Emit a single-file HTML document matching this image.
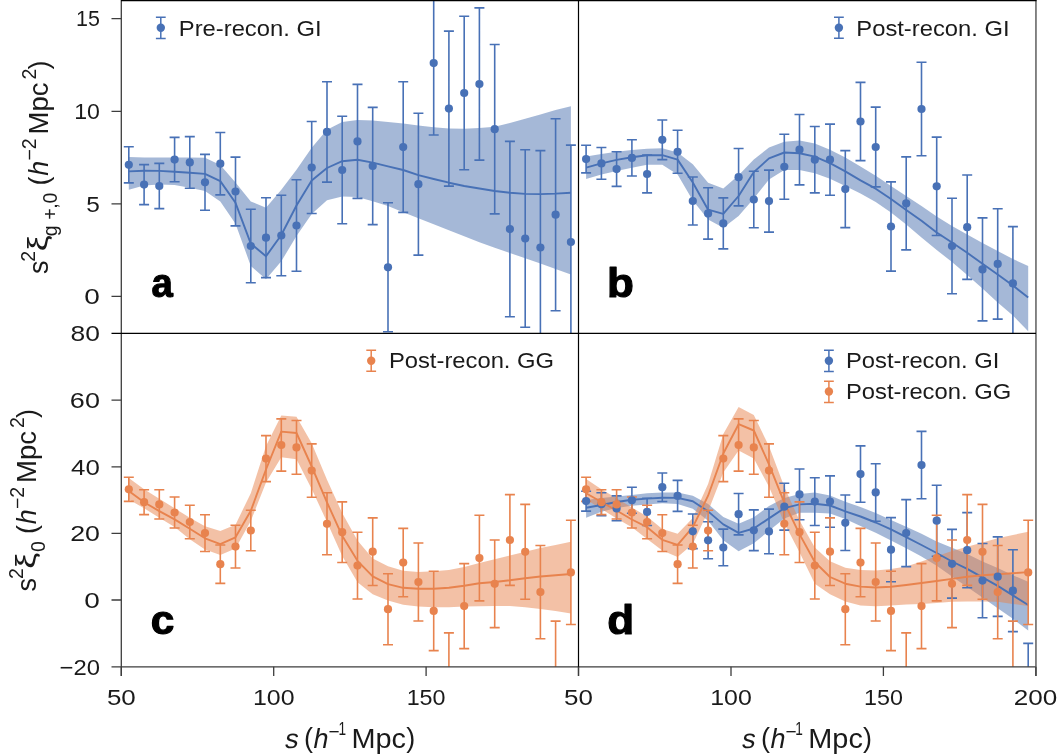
<!DOCTYPE html>
<html><head><meta charset="utf-8"><style>
html,body{margin:0;padding:0;background:#fff;}
body{width:1058px;height:755px;overflow:hidden;}
svg{display:block;}
</style></head><body>
<svg width="1058" height="755" viewBox="0 0 1058 755" style="will-change:transform">
<rect width="1058" height="755" fill="#fff"/>
<defs>
<clipPath id="ca"><rect x="121.2" y="0" width="457.3" height="333.4"/></clipPath>
<clipPath id="cb"><rect x="578.5" y="0" width="457.5" height="333.4"/></clipPath>
<clipPath id="cc"><rect x="121.2" y="333.4" width="457.3" height="333.4"/></clipPath>
<clipPath id="cd"><rect x="578.5" y="333.4" width="457.5" height="333.4"/></clipPath>
</defs>
<path d="M128.8 157 L144.1 157.4 L159.3 157.6 L174.6 157.6 L189.8 157.6 L205 157.8 L220.3 165 L235.5 182.4 L250.8 201.5 L266 207.7 L281.3 189.8 L296.5 169.7 L311.7 147.7 L327 129.8 L342.2 121.9 L357.5 119.9 L372.7 120.5 L388 121.9 L403.2 123.6 L418.4 125.5 L433.7 127.3 L448.9 128.4 L464.2 128.8 L479.4 128 L494.7 126.8 L509.9 123 L525.2 118.7 L540.4 114.4 L555.6 110.1 L570.9 106.2 L570.9 274.6 L555.6 268.9 L540.4 263.6 L525.2 258.3 L509.9 253 L494.7 247.7 L479.4 242.2 L464.2 236.2 L448.9 230.3 L433.7 224.3 L418.4 218.2 L403.2 212.2 L388 206.1 L372.7 201.3 L357.5 197 L342.2 196.4 L327 200.3 L311.7 214 L296.5 236 L281.3 261.3 L266 279.2 L250.8 266 L235.5 223.7 L220.3 201.5 L205 190.9 L189.8 187.7 L174.6 184.9 L159.3 184.5 L144.1 185.6 L128.8 189.8Z" fill="#4C72B0" fill-opacity="0.5" clip-path="url(#ca)"/>
<path d="M128.8 171.4 L144.1 170.7 L159.3 170.9 L174.6 171.8 L189.8 172.8 L205 173.9 L220.3 181.1 L235.5 202.8 L250.8 243.6 L266 256.3 L281.3 235 L296.5 205.5 L311.7 180.5 L327 168 L342.2 161.2 L357.5 159.8 L372.7 162.6 L388 166.3 L403.2 170 L418.4 175.2 L433.7 179 L448.9 182.7 L464.2 186 L479.4 188.5 L494.7 191 L509.9 192.7 L525.2 193.9 L540.4 194.1 L555.6 193.6 L570.9 192.7" fill="none" stroke="#4871B6" stroke-width="1.9" stroke-linejoin="round" clip-path="url(#ca)"/>
<path d="M128.8 146.7V182.9M123.8 146.7H133.8M123.8 182.9H133.8M144.1 164.6V204.6M139.1 164.6H149.1M139.1 204.6H149.1M159.3 163.4V208.6M154.3 163.4H164.3M154.3 208.6H164.3M174.6 137.4V181.8M169.6 137.4H179.6M169.6 181.8H179.6M189.8 136.6V188.2M184.8 136.6H194.8M184.8 188.2H194.8M205 154.4V210.2M200 154.4H210M200 210.2H210M220.3 132.5V194.9M215.3 132.5H225.3M215.3 194.9H225.3M235.5 157.1V225.9M230.5 157.1H240.5M230.5 225.9H240.5M250.8 209.3V282.7M245.8 209.3H255.8M245.8 282.7H255.8M266 197.8V277.6M261 197.8H271M261 277.6H271M281.3 195.3V275.7M276.3 195.3H286.3M276.3 275.7H286.3M296.5 179.7V271.3M291.5 179.7H301.5M291.5 271.3H301.5M311.7 121.5V213.5M306.7 121.5H316.7M306.7 213.5H316.7M327 81.7V182.1M322 81.7H332M322 182.1H332M342.2 116.3V223.7M337.2 116.3H347.2M337.2 223.7H347.2M357.5 84.4V198.4M352.5 84.4H362.5M352.5 198.4H362.5M372.7 107.4V224.6M367.7 107.4H377.7M367.7 224.6H377.7M388 202.8V331.8M383 202.8H393M383 331.8H393M403.2 81.8V212.4M398.2 81.8H408.2M398.2 212.4H408.2M418.4 113.3V255.1M413.4 113.3H423.4M413.4 255.1H423.4M433.7 -8.8V135M428.7 -8.8H438.7M428.7 135H438.7M448.9 31.1V186.1M443.9 31.1H453.9M443.9 186.1H453.9M464.2 16.2V169.8M459.2 16.2H469.2M459.2 169.8H469.2M479.4 7.9V160.1M474.4 7.9H484.4M474.4 160.1H484.4M494.7 44.5V213.9M489.7 44.5H499.7M489.7 213.9H499.7M509.9 141.4V316.8M504.9 141.4H514.9M504.9 316.8H514.9M525.2 149.7V327.3M520.2 149.7H530.2M520.2 327.3H530.2M540.4 150.6V344.4M535.4 150.6H545.4M535.4 344.4H545.4M555.6 118.7V310.7M550.6 118.7H560.6M550.6 310.7H560.6M570.9 145.1V338.9M565.9 145.1H575.9M565.9 338.9H575.9" fill="none" stroke="#4871B6" stroke-width="1.6" clip-path="url(#ca)"/>
<g fill="#4871B6" clip-path="url(#ca)"><circle cx="128.8" cy="164.8" r="4.1"/><circle cx="144.1" cy="184.6" r="4.1"/><circle cx="159.3" cy="186" r="4.1"/><circle cx="174.6" cy="159.6" r="4.1"/><circle cx="189.8" cy="162.4" r="4.1"/><circle cx="205" cy="182.3" r="4.1"/><circle cx="220.3" cy="163.7" r="4.1"/><circle cx="235.5" cy="191.5" r="4.1"/><circle cx="250.8" cy="246" r="4.1"/><circle cx="266" cy="237.7" r="4.1"/><circle cx="281.3" cy="235.5" r="4.1"/><circle cx="296.5" cy="225.5" r="4.1"/><circle cx="311.7" cy="167.5" r="4.1"/><circle cx="327" cy="131.9" r="4.1"/><circle cx="342.2" cy="170" r="4.1"/><circle cx="357.5" cy="141.4" r="4.1"/><circle cx="372.7" cy="166" r="4.1"/><circle cx="388" cy="267.3" r="4.1"/><circle cx="403.2" cy="147.1" r="4.1"/><circle cx="418.4" cy="184.2" r="4.1"/><circle cx="433.7" cy="63.1" r="4.1"/><circle cx="448.9" cy="108.6" r="4.1"/><circle cx="464.2" cy="93" r="4.1"/><circle cx="479.4" cy="84" r="4.1"/><circle cx="494.7" cy="129.2" r="4.1"/><circle cx="509.9" cy="229.1" r="4.1"/><circle cx="525.2" cy="238.5" r="4.1"/><circle cx="540.4" cy="247.5" r="4.1"/><circle cx="555.6" cy="214.7" r="4.1"/><circle cx="570.9" cy="242" r="4.1"/></g>
<path d="M586.1 156.5 L601.4 153.9 L616.6 151.8 L631.9 150 L647.1 148.7 L662.3 148.2 L677.6 152.5 L692.8 164.2 L708.1 182.8 L723.3 188.5 L738.6 175.3 L753.8 159.4 L769 147.5 L784.3 141.7 L799.5 140.4 L814.8 143.6 L830 149.7 L845.3 157.5 L860.5 166.5 L875.7 175.7 L891 186 L906.2 196 L921.5 206 L936.7 216.5 L952 226 L967.2 234.5 L982.5 243 L997.7 251 L1012.9 259 L1028.2 266 L1028.2 331.3 L1012.9 315.5 L997.7 302.5 L982.5 288.5 L967.2 275 L952 262 L936.7 250 L921.5 237.5 L906.2 224.5 L891 212.5 L875.7 202 L860.5 193.5 L845.3 186 L830 178.8 L814.8 173.3 L799.5 170.1 L784.3 170.1 L769 179.5 L753.8 198.4 L738.6 215.9 L723.3 227.8 L708.1 219.5 L692.8 200.5 L677.6 174.5 L662.3 164.8 L647.1 164.8 L631.9 167.7 L616.6 171.1 L601.4 174.6 L586.1 178.9Z" fill="#4C72B0" fill-opacity="0.5" clip-path="url(#cb)"/>
<path d="M586.1 167.7 L601.4 163.4 L616.6 159.9 L631.9 157.3 L647.1 155.3 L662.3 155.1 L677.6 159.6 L692.8 182.5 L708.1 209.7 L723.3 213.8 L738.6 196 L753.8 172.1 L769 158.4 L784.3 152.5 L799.5 153.2 L814.8 156.6 L830 163.1 L845.3 171.4 L860.5 180.4 L875.7 188.7 L891 199 L906.2 210 L921.5 220.8 L936.7 232.5 L952 242.5 L967.2 252.8 L982.5 263.7 L997.7 274.5 L1012.9 285.5 L1028.2 297.5" fill="none" stroke="#4871B6" stroke-width="1.9" stroke-linejoin="round" clip-path="url(#cb)"/>
<path d="M586.1 145.3V172.9M581.1 145.3H591.1M581.1 172.9H591.1M601.4 147.5V179.3M596.4 147.5H606.4M596.4 179.3H606.4M616.6 151.8V186.4M611.6 151.8H621.6M611.6 186.4H621.6M631.9 139.8V176M626.9 139.8H636.9M626.9 176H636.9M647.1 155.1V192.9M642.1 155.1H652.1M642.1 192.9H652.1M662.3 120V159.6M657.3 120H667.3M657.3 159.6H667.3M677.6 130.3V173.3M672.6 130.3H682.6M672.6 173.3H682.6M692.8 177V225M687.8 177H697.8M687.8 225H697.8M708.1 187.7V239.1M703.1 187.7H713.1M703.1 239.1H713.1M723.3 197.9V248.9M718.3 197.9H728.3M718.3 248.9H728.3M738.6 148.5V205.9M733.6 148.5H743.6M733.6 205.9H743.6M753.8 171.3V227.7M748.8 171.3H758.8M748.8 227.7H758.8M769 170.1V232.1M764 170.1H774M764 232.1H774M784.3 134.3V199.3M779.3 134.3H789.3M779.3 199.3H789.3M799.5 114.5V184.9M794.5 114.5H804.5M794.5 184.9H804.5M814.8 126.5V192.9M809.8 126.5H819.8M809.8 192.9H819.8M830 124.1V195.3M825 124.1H835M825 195.3H835M845.3 150.6V227.6M840.3 150.6H850.3M840.3 227.6H850.3M860.5 82.4V160.6M855.5 82.4H865.5M855.5 160.6H865.5M875.7 107.1V186.9M870.7 107.1H880.7M870.7 186.9H880.7M891 181.9V271.1M886 181.9H896M886 271.1H896M906.2 156.9V249.9M901.2 156.9H911.2M901.2 249.9H911.2M921.5 62.3V155.7M916.5 62.3H926.5M916.5 155.7H926.5M936.7 137.1V235.5M931.7 137.1H941.7M931.7 235.5H941.7M952 198.3V293.7M947 198.3H957M947 293.7H957M967.2 175V279.4M962.2 175H972.2M962.2 279.4H972.2M982.5 217.9V320.9M977.5 217.9H987.5M977.5 320.9H987.5M997.7 208.7V319.1M992.7 208.7H1002.7M992.7 319.1H1002.7M1012.9 226.6V340.2M1007.9 226.6H1017.9M1007.9 340.2H1017.9M1028.2 356.5V475.5M1023.2 356.5H1033.2M1023.2 475.5H1033.2" fill="none" stroke="#4871B6" stroke-width="1.6" clip-path="url(#cb)"/>
<g fill="#4871B6" clip-path="url(#cb)"><circle cx="586.1" cy="159.1" r="4.1"/><circle cx="601.4" cy="163.4" r="4.1"/><circle cx="616.6" cy="169.1" r="4.1"/><circle cx="631.9" cy="157.9" r="4.1"/><circle cx="647.1" cy="174" r="4.1"/><circle cx="662.3" cy="139.8" r="4.1"/><circle cx="677.6" cy="151.8" r="4.1"/><circle cx="692.8" cy="201" r="4.1"/><circle cx="708.1" cy="213.4" r="4.1"/><circle cx="723.3" cy="223.4" r="4.1"/><circle cx="738.6" cy="177.2" r="4.1"/><circle cx="753.8" cy="199.5" r="4.1"/><circle cx="769" cy="201.1" r="4.1"/><circle cx="784.3" cy="166.8" r="4.1"/><circle cx="799.5" cy="149.7" r="4.1"/><circle cx="814.8" cy="159.7" r="4.1"/><circle cx="830" cy="159.7" r="4.1"/><circle cx="845.3" cy="189.1" r="4.1"/><circle cx="860.5" cy="121.5" r="4.1"/><circle cx="875.7" cy="147" r="4.1"/><circle cx="891" cy="226.5" r="4.1"/><circle cx="906.2" cy="203.4" r="4.1"/><circle cx="921.5" cy="109" r="4.1"/><circle cx="936.7" cy="186.3" r="4.1"/><circle cx="952" cy="246" r="4.1"/><circle cx="967.2" cy="227.2" r="4.1"/><circle cx="982.5" cy="269.4" r="4.1"/><circle cx="997.7" cy="263.9" r="4.1"/><circle cx="1012.9" cy="283.4" r="4.1"/><circle cx="1028.2" cy="416" r="4.1"/></g>
<path d="M128.8 478.1 L144.1 489.3 L159.3 498.7 L174.6 508.2 L189.8 517.7 L205 526.3 L220.3 531 L235.5 524.7 L250.8 493.2 L266 446 L281.3 415.5 L296.5 416.8 L311.7 443.3 L327 479.7 L342.2 513.1 L357.5 540.5 L372.7 558.4 L388 566.2 L403.2 570.7 L418.4 571.9 L433.7 571.2 L448.9 569.9 L464.2 566.9 L479.4 563.1 L494.7 559.3 L509.9 555.6 L525.2 551.8 L540.4 548 L555.6 545 L570.9 541.7 L570.9 613.5 L555.6 611 L540.4 609 L525.2 607.2 L509.9 605.9 L494.7 605.9 L479.4 606.2 L464.2 606.4 L448.9 607.2 L433.7 607.2 L418.4 606.4 L403.2 604.7 L388 600.6 L372.7 594.2 L357.5 582.3 L342.2 556 L327 522 L311.7 489 L296.5 459.3 L281.3 457.2 L266 482.5 L250.8 520.9 L235.5 548.6 L220.3 554.9 L205 549.5 L189.8 539.2 L174.6 527.1 L159.3 517.7 L144.1 508.2 L128.8 499.6Z" fill="#E8834E" fill-opacity="0.5" clip-path="url(#cc)"/>
<path d="M128.8 491 L144.1 502.2 L159.3 511.1 L174.6 519.4 L189.8 528.8 L205 538.3 L220.3 544.2 L235.5 537.3 L250.8 510.8 L266 469.5 L281.3 431.6 L296.5 433 L311.7 466.5 L327 502.3 L342.2 535.8 L357.5 560.8 L372.7 576.3 L388 584.2 L403.2 587.8 L418.4 588.8 L433.7 588.8 L448.9 587.8 L464.2 585.8 L479.4 583.3 L494.7 582 L509.9 580.3 L525.2 578.2 L540.4 576.5 L555.6 575.2 L570.9 574" fill="none" stroke="#E8834E" stroke-width="1.9" stroke-linejoin="round" clip-path="url(#cc)"/>
<path d="M128.8 477.2V501.4M123.8 477.2H133.8M123.8 501.4H133.8M144.1 489.8V514.6M139.1 489.8H149.1M139.1 514.6H149.1M159.3 489.8V519M154.3 489.8H164.3M154.3 519H164.3M174.6 497V528M169.6 497H179.6M169.6 528H179.6M189.8 505.3V538.7M184.8 505.3H194.8M184.8 538.7H194.8M205 514.7V551.5M200 514.7H210M200 551.5H210M220.3 545V583.4M215.3 545H225.3M215.3 583.4H225.3M235.5 525.2V568M230.5 525.2H240.5M230.5 568H240.5M250.8 510.3V550.7M245.8 510.3H255.8M245.8 550.7H255.8M266 435.6V481.6M261 435.6H271M261 481.6H271M281.3 418.9V471.1M276.3 418.9H286.3M276.3 471.1H286.3M296.5 420.5V474.3M291.5 420.5H301.5M291.5 474.3H301.5M311.7 443.9V497.3M306.7 443.9H316.7M306.7 497.3H316.7M327 492.8V554.8M322 492.8H332M322 554.8H332M342.2 501.9V562.5M337.2 501.9H347.2M337.2 562.5H347.2M357.5 532.2V599M352.5 532.2H362.5M352.5 599H362.5M372.7 517.9V585.5M367.7 517.9H377.7M367.7 585.5H377.7M388 573.7V644.7M383 573.7H393M383 644.7H393M403.2 528.4V596.8M398.2 528.4H408.2M398.2 596.8H408.2M418.4 543V621M413.4 543H423.4M413.4 621H423.4M433.7 571.2V650.6M428.7 571.2H438.7M428.7 650.6H438.7M448.9 632.9V715.1M443.9 632.9H453.9M443.9 715.1H453.9M464.2 563.6V648.6M459.2 563.6H469.2M459.2 648.6H469.2M479.4 515.3V600.9M474.4 515.3H484.4M474.4 600.9H484.4M494.7 540V627.6M489.7 540H499.7M489.7 627.6H499.7M509.9 494.6V585.4M504.9 494.6H514.9M504.9 585.4H514.9M525.2 504.4V599.2M520.2 504.4H530.2M520.2 599.2H530.2M540.4 545.5V638.7M535.4 545.5H545.4M535.4 638.7H545.4M555.6 621.1V723.9M550.6 621.1H560.6M550.6 723.9H560.6M570.9 520.3V624.5M565.9 520.3H575.9M565.9 624.5H575.9" fill="none" stroke="#E8834E" stroke-width="1.6" clip-path="url(#cc)"/>
<g fill="#E8834E" clip-path="url(#cc)"><circle cx="128.8" cy="489.3" r="4.1"/><circle cx="144.1" cy="502.2" r="4.1"/><circle cx="159.3" cy="504.4" r="4.1"/><circle cx="174.6" cy="512.5" r="4.1"/><circle cx="189.8" cy="522" r="4.1"/><circle cx="205" cy="533.1" r="4.1"/><circle cx="220.3" cy="564.2" r="4.1"/><circle cx="235.5" cy="546.6" r="4.1"/><circle cx="250.8" cy="530.5" r="4.1"/><circle cx="266" cy="458.6" r="4.1"/><circle cx="281.3" cy="445" r="4.1"/><circle cx="296.5" cy="447.4" r="4.1"/><circle cx="311.7" cy="470.6" r="4.1"/><circle cx="327" cy="523.8" r="4.1"/><circle cx="342.2" cy="532.2" r="4.1"/><circle cx="357.5" cy="565.6" r="4.1"/><circle cx="372.7" cy="551.7" r="4.1"/><circle cx="388" cy="609.2" r="4.1"/><circle cx="403.2" cy="562.6" r="4.1"/><circle cx="418.4" cy="582" r="4.1"/><circle cx="433.7" cy="610.9" r="4.1"/><circle cx="448.9" cy="674" r="4.1"/><circle cx="464.2" cy="606.1" r="4.1"/><circle cx="479.4" cy="558.1" r="4.1"/><circle cx="494.7" cy="583.8" r="4.1"/><circle cx="509.9" cy="540" r="4.1"/><circle cx="525.2" cy="551.8" r="4.1"/><circle cx="540.4" cy="592.1" r="4.1"/><circle cx="555.6" cy="672.5" r="4.1"/><circle cx="570.9" cy="572.4" r="4.1"/></g>
<path d="M586.1 500 L601.4 498 L616.6 496.5 L631.9 495 L647.1 493.2 L662.3 492.5 L677.6 492.5 L692.8 495.7 L708.1 504 L723.3 517 L738.6 523.8 L753.8 517.3 L769 506 L784.3 498.1 L799.5 494.1 L814.8 492.5 L830 495.5 L845.3 501.8 L860.5 507 L875.7 513 L891 519.9 L906.2 526.8 L921.5 533.8 L936.7 541.4 L952 547.7 L967.2 554.1 L982.5 561.5 L997.7 567.9 L1012.9 575.3 L1028.2 581.7 L1028.2 630.4 L1012.9 618.8 L997.7 608.2 L982.5 597.6 L967.2 587 L952 576.4 L936.7 565.7 L921.5 556.5 L906.2 548.3 L891 540.6 L875.7 532.8 L860.5 525.9 L845.3 519.1 L830 513.5 L814.8 512.7 L799.5 512.7 L784.3 518.4 L769 530.8 L753.8 543.2 L738.6 551.2 L723.3 540.2 L708.1 520.7 L692.8 508.7 L677.6 504 L662.3 503.3 L647.1 504.6 L631.9 505.8 L616.6 508.1 L601.4 511.7 L586.1 517.7Z" fill="#4C72B0" fill-opacity="0.5" clip-path="url(#cd)"/>
<path d="M586.1 478.9 L601.4 489.3 L616.6 498.2 L631.9 507.5 L647.1 516.5 L662.3 529 L677.6 533.7 L692.8 517.9 L708.1 484 L723.3 434 L738.6 407.1 L753.8 415.1 L769 446.3 L784.3 486.8 L799.5 520.6 L814.8 547.5 L830 561.2 L845.3 567.8 L860.5 570 L875.7 570.4 L891 569 L906.2 566.5 L921.5 561.5 L936.7 556.2 L952 550.9 L967.2 546.7 L982.5 542.4 L997.7 538.2 L1012.9 535 L1028.2 531.8 L1028.2 606 L1012.9 603.9 L997.7 601.8 L982.5 601.4 L967.2 601.4 L952 601.8 L936.7 602.9 L921.5 603.9 L906.2 604.6 L891 605.6 L875.7 606.2 L860.5 605.6 L845.3 601.6 L830 594.3 L814.8 583.7 L799.5 552.2 L784.3 522.9 L769 486.8 L753.8 458.6 L738.6 450.5 L723.3 472.5 L708.1 511.4 L692.8 543.9 L677.6 556.9 L662.3 550.5 L647.1 539.1 L631.9 527.3 L616.6 518.5 L601.4 509 L586.1 499.5Z" fill="#E8834E" fill-opacity="0.5" clip-path="url(#cd)"/>
<path d="M586.1 507.8 L601.4 505 L616.6 502 L631.9 499.7 L647.1 498.6 L662.3 497.8 L677.6 497.9 L692.8 501.2 L708.1 511.4 L723.3 524.4 L738.6 532.9 L753.8 528.5 L769 518.4 L784.3 508.2 L799.5 504.4 L814.8 503.7 L830 505.5 L845.3 511.3 L860.5 516.5 L875.7 522.5 L891 529.4 L906.2 537.1 L921.5 545 L936.7 553 L952 561.5 L967.2 568.9 L982.5 577.4 L997.7 585.9 L1012.9 595.4 L1028.2 605" fill="none" stroke="#4871B6" stroke-width="1.9" stroke-linejoin="round" clip-path="url(#cd)"/>
<path d="M586.1 491.2V511.1M581.1 491.2H591.1M581.1 511.1H591.1M601.4 492.8V515.7M596.4 492.8H606.4M596.4 515.7H606.4M616.6 495.9V520.8M611.6 495.9H621.6M611.6 520.8H621.6M631.9 487.2V513.3M626.9 487.2H636.9M626.9 513.3H636.9M647.1 498.3V525.5M642.1 498.3H652.1M642.1 525.5H652.1M662.3 473V501.5M657.3 473H667.3M657.3 501.5H667.3M677.6 480.4V511.4M672.6 480.4H682.6M672.6 511.4H682.6M692.8 514V548.6M687.8 514H697.8M687.8 548.6H697.8M708.1 521.8V558.8M703.1 521.8H713.1M703.1 558.8H713.1M723.3 529.1V565.8M718.3 529.1H728.3M718.3 565.8H728.3M738.6 493.5V534.9M733.6 493.5H743.6M733.6 534.9H743.6M753.8 509.9V550.6M748.8 509.9H758.8M748.8 550.6H758.8M769 509.1V553.7M764 509.1H774M764 553.7H774M784.3 483.3V530.1M779.3 483.3H789.3M779.3 530.1H789.3M799.5 469V519.7M794.5 469H804.5M794.5 519.7H804.5M814.8 477.7V525.5M809.8 477.7H819.8M809.8 525.5H819.8M830 475.9V527.2M825 475.9H835M825 527.2H835M845.3 495V550.5M840.3 495H850.3M840.3 550.5H850.3M860.5 445.9V502.2M855.5 445.9H865.5M855.5 502.2H865.5M875.7 463.7V521.2M870.7 463.7H880.7M870.7 521.2H880.7M891 517.6V581.8M886 517.6H896M886 581.8H896M906.2 499.6V566.6M901.2 499.6H911.2M901.2 566.6H911.2M921.5 431.4V498.7M916.5 431.4H926.5M916.5 498.7H926.5M936.7 485.3V556.2M931.7 485.3H941.7M931.7 556.2H941.7M952 529.4V598.1M947 529.4H957M947 598.1H957M967.2 512.6V587.8M962.2 512.6H972.2M962.2 587.8H972.2M982.5 543.5V617.7M977.5 543.5H987.5M977.5 617.7H987.5M997.7 536.9V616.4M992.7 536.9H1002.7M992.7 616.4H1002.7M1012.9 549.8V631.6M1007.9 549.8H1017.9M1007.9 631.6H1017.9M1028.2 643.4V729.1M1023.2 643.4H1033.2M1023.2 729.1H1033.2" fill="none" stroke="#4871B6" stroke-width="1.6" clip-path="url(#cd)"/>
<path d="M586.1 493.2 L601.4 502 L616.6 510.5 L631.9 519.5 L647.1 527.2 L662.3 539.8 L677.6 544.8 L692.8 527.2 L708.1 495.7 L723.3 453.5 L738.6 424.2 L753.8 430.5 L769 464.3 L784.3 502.6 L799.5 534.1 L814.8 562 L830 577 L845.3 583.7 L860.5 586.6 L875.7 587.5 L891 586.8 L906.2 585 L921.5 583 L936.7 581 L952 578.9 L967.2 576.8 L982.5 575.3 L997.7 574.2 L1012.9 573.2 L1028.2 572.1" fill="none" stroke="#E8834E" stroke-width="1.9" stroke-linejoin="round" clip-path="url(#cd)"/>
<path d="M586.1 477.2V501.4M581.1 477.2H591.1M581.1 501.4H591.1M601.4 489.8V514.6M596.4 489.8H606.4M596.4 514.6H606.4M616.6 489.8V519M611.6 489.8H621.6M611.6 519H621.6M631.9 497V528M626.9 497H636.9M626.9 528H636.9M647.1 505.3V538.7M642.1 505.3H652.1M642.1 538.7H652.1M662.3 514.7V551.5M657.3 514.7H667.3M657.3 551.5H667.3M677.6 545V583.4M672.6 545H682.6M672.6 583.4H682.6M692.8 525.2V568M687.8 525.2H697.8M687.8 568H697.8M708.1 510.3V550.7M703.1 510.3H713.1M703.1 550.7H713.1M723.3 435.6V481.6M718.3 435.6H728.3M718.3 481.6H728.3M738.6 418.9V471.1M733.6 418.9H743.6M733.6 471.1H743.6M753.8 420.5V474.3M748.8 420.5H758.8M748.8 474.3H758.8M769 443.9V497.3M764 443.9H774M764 497.3H774M784.3 492.8V554.8M779.3 492.8H789.3M779.3 554.8H789.3M799.5 501.9V562.5M794.5 501.9H804.5M794.5 562.5H804.5M814.8 532.2V599M809.8 532.2H819.8M809.8 599H819.8M830 517.9V585.5M825 517.9H835M825 585.5H835M845.3 573.7V644.7M840.3 573.7H850.3M840.3 644.7H850.3M860.5 528.4V596.8M855.5 528.4H865.5M855.5 596.8H865.5M875.7 543V621M870.7 543H880.7M870.7 621H880.7M891 571.2V650.6M886 571.2H896M886 650.6H896M906.2 632.9V715.1M901.2 632.9H911.2M901.2 715.1H911.2M921.5 563.6V648.6M916.5 563.6H926.5M916.5 648.6H926.5M936.7 515.3V600.9M931.7 515.3H941.7M931.7 600.9H941.7M952 540V627.6M947 540H957M947 627.6H957M967.2 494.6V585.4M962.2 494.6H972.2M962.2 585.4H972.2M982.5 504.4V599.2M977.5 504.4H987.5M977.5 599.2H987.5M997.7 545.5V638.7M992.7 545.5H1002.7M992.7 638.7H1002.7M1012.9 621.1V723.9M1007.9 621.1H1017.9M1007.9 723.9H1017.9M1028.2 520.3V624.5M1023.2 520.3H1033.2M1023.2 624.5H1033.2" fill="none" stroke="#E8834E" stroke-width="1.6" clip-path="url(#cd)"/>
<g fill="#4871B6" clip-path="url(#cd)"><circle cx="586.1" cy="501.1" r="4.1"/><circle cx="601.4" cy="504.2" r="4.1"/><circle cx="616.6" cy="508.4" r="4.1"/><circle cx="631.9" cy="500.3" r="4.1"/><circle cx="647.1" cy="511.9" r="4.1"/><circle cx="662.3" cy="487.2" r="4.1"/><circle cx="677.6" cy="495.9" r="4.1"/><circle cx="692.8" cy="531.3" r="4.1"/><circle cx="708.1" cy="540.3" r="4.1"/><circle cx="723.3" cy="547.5" r="4.1"/><circle cx="738.6" cy="514.2" r="4.1"/><circle cx="753.8" cy="530.3" r="4.1"/><circle cx="769" cy="531.4" r="4.1"/><circle cx="784.3" cy="506.7" r="4.1"/><circle cx="799.5" cy="494.4" r="4.1"/><circle cx="814.8" cy="501.6" r="4.1"/><circle cx="830" cy="501.6" r="4.1"/><circle cx="845.3" cy="522.8" r="4.1"/><circle cx="860.5" cy="474.1" r="4.1"/><circle cx="875.7" cy="492.4" r="4.1"/><circle cx="891" cy="549.7" r="4.1"/><circle cx="906.2" cy="533.1" r="4.1"/><circle cx="921.5" cy="465.1" r="4.1"/><circle cx="936.7" cy="520.7" r="4.1"/><circle cx="952" cy="563.8" r="4.1"/><circle cx="967.2" cy="550.2" r="4.1"/><circle cx="982.5" cy="580.6" r="4.1"/><circle cx="997.7" cy="576.7" r="4.1"/><circle cx="1012.9" cy="590.7" r="4.1"/><circle cx="1028.2" cy="686.2" r="4.1"/></g>
<g fill="#E8834E" clip-path="url(#cd)"><circle cx="586.1" cy="489.3" r="4.1"/><circle cx="601.4" cy="502.2" r="4.1"/><circle cx="616.6" cy="504.4" r="4.1"/><circle cx="631.9" cy="512.5" r="4.1"/><circle cx="647.1" cy="522" r="4.1"/><circle cx="662.3" cy="533.1" r="4.1"/><circle cx="677.6" cy="564.2" r="4.1"/><circle cx="692.8" cy="546.6" r="4.1"/><circle cx="708.1" cy="530.5" r="4.1"/><circle cx="723.3" cy="458.6" r="4.1"/><circle cx="738.6" cy="445" r="4.1"/><circle cx="753.8" cy="447.4" r="4.1"/><circle cx="769" cy="470.6" r="4.1"/><circle cx="784.3" cy="523.8" r="4.1"/><circle cx="799.5" cy="532.2" r="4.1"/><circle cx="814.8" cy="565.6" r="4.1"/><circle cx="830" cy="551.7" r="4.1"/><circle cx="845.3" cy="609.2" r="4.1"/><circle cx="860.5" cy="562.6" r="4.1"/><circle cx="875.7" cy="582" r="4.1"/><circle cx="891" cy="610.9" r="4.1"/><circle cx="906.2" cy="674" r="4.1"/><circle cx="921.5" cy="606.1" r="4.1"/><circle cx="936.7" cy="558.1" r="4.1"/><circle cx="952" cy="583.8" r="4.1"/><circle cx="967.2" cy="540" r="4.1"/><circle cx="982.5" cy="551.8" r="4.1"/><circle cx="997.7" cy="592.1" r="4.1"/><circle cx="1012.9" cy="672.5" r="4.1"/><circle cx="1028.2" cy="572.4" r="4.1"/></g>
<path d="M121.3 0V676" stroke="#3d3d3d" stroke-width="1.3" fill="none"/><path d="M121.2 666.8H1036" stroke="#3d3d3d" stroke-width="1.3" fill="none"/><path d="M1035.95 0V676" stroke="#5e5e5e" stroke-width="1.5" fill="none"/><path d="M121 0.5H1036.5" stroke="#000" stroke-width="1.3" fill="none"/><path d="M111.5 333.4H1036" stroke="#000" stroke-width="1.2" fill="none"/><path d="M578.5 0V676" stroke="#000" stroke-width="1.2" fill="none"/><path d="M111.5 18.7H121.3M111.5 111.3H121.3M111.5 203.8H121.3M111.5 296.3H121.3M111.5 400.1H121.3M111.5 466.8H121.3M111.5 533.4H121.3M111.5 600H121.3M111.5 666.8H121.3M121.3 666.8V676M273.7 666.8V676M426.1 666.8V676M578.5 666.8V676M731 666.8V676M883.4 666.8V676M1035.9 666.8V676" stroke="#3d3d3d" stroke-width="1.3" fill="none"/>
<g style="font-family:'Liberation Sans',sans-serif" fill="#1a1a1a" font-size="22.5"><text text-anchor="end" transform="translate(99.9 26.4) scale(0.955 1)">15</text><text text-anchor="end" transform="translate(99.9 119) scale(1.027 1)">10</text><text text-anchor="end" transform="translate(99.9 211.5) scale(1.087 1)">5</text><text text-anchor="end" transform="translate(99.9 304) scale(1.245 1)">0</text><text text-anchor="end" transform="translate(99.9 341.1) scale(1.175 1)">80</text><text text-anchor="end" transform="translate(99.9 407.8) scale(1.2 1)">60</text><text text-anchor="end" transform="translate(99.9 474.5) scale(1.15 1)">40</text><text text-anchor="end" transform="translate(99.9 541.1) scale(1.19 1)">20</text><text text-anchor="end" transform="translate(99.9 607.7) scale(1.245 1)">0</text><text text-anchor="end" transform="translate(99.9 674.5) scale(1.06 1)">−20</text><text text-anchor="middle" transform="translate(121.3 705.2) scale(1.153 1)">50</text><text text-anchor="middle" transform="translate(273.7 705.2) scale(1.108 1)">100</text><text text-anchor="middle" transform="translate(426.1 705.2) scale(1.037 1)">150</text><text text-anchor="middle" transform="translate(578.5 705.2) scale(1.153 1)">50</text><text text-anchor="middle" transform="translate(731 705.2) scale(1.108 1)">100</text><text text-anchor="middle" transform="translate(883.4 705.2) scale(1.037 1)">150</text><text text-anchor="middle" transform="translate(1035.6 705.2) scale(1.16 1)">200</text></g><path d="M160.8 17.3V38.5M155.9 17.3H165.7M155.9 38.5H165.7" stroke="#4871B6" stroke-width="1.5" fill="none"/><circle cx="160.8" cy="27.7" r="4.2" fill="#4871B6"/><text style="font-family:'Liberation Sans',sans-serif" font-size="22.5" fill="#1a1a1a" transform="translate(178.8 35.8) scale(1.057 1)">Pre-recon. GI</text><path d="M838.9 17.3V38.3M834 17.3H843.8M834 38.3H843.8" stroke="#4871B6" stroke-width="1.5" fill="none"/><circle cx="838.9" cy="27.8" r="4.2" fill="#4871B6"/><text style="font-family:'Liberation Sans',sans-serif" font-size="22.5" fill="#1a1a1a" transform="translate(856.3 35.8) scale(1.057 1)">Post-recon. GI</text><path d="M371.2 350.3V371.3M366.3 350.3H376.1M366.3 371.3H376.1" stroke="#E8834E" stroke-width="1.5" fill="none"/><circle cx="371.2" cy="360.8" r="4.2" fill="#E8834E"/><text style="font-family:'Liberation Sans',sans-serif" font-size="22.5" fill="#1a1a1a" transform="translate(388.9 367.8) scale(1.057 1)">Post-recon. GG</text><path d="M828.9 350.2V371.5M824 350.2H833.8M824 371.5H833.8" stroke="#4871B6" stroke-width="1.5" fill="none"/><circle cx="828.9" cy="360.7" r="4.2" fill="#4871B6"/><text style="font-family:'Liberation Sans',sans-serif" font-size="22.5" fill="#1a1a1a" transform="translate(846 368.3) scale(1.057 1)">Post-recon. GI</text><path d="M828.9 381.3V402.4M824 381.3H833.8M824 402.4H833.8" stroke="#E8834E" stroke-width="1.5" fill="none"/><circle cx="828.9" cy="391.5" r="4.2" fill="#E8834E"/><text style="font-family:'Liberation Sans',sans-serif" font-size="22.5" fill="#1a1a1a" transform="translate(846 398.7) scale(1.057 1)">Post-recon. GG</text><g style="font-family:'Liberation Sans',sans-serif" font-size="40" font-weight="bold" fill="#000" stroke="#000" stroke-width="1.1" stroke-linejoin="round"><text transform="translate(151.6 296.6) scale(0.96 1)">a</text><text transform="translate(606.9 296.9) scale(1.1 1)">b</text><text transform="translate(150.8 634) scale(1.06 1)">c</text><text transform="translate(607.2 634) scale(1.1 1)">d</text></g><g style="font-family:'Liberation Sans',sans-serif" fill="#1a1a1a"><text font-size="27" transform="translate(284 748) skewX(-9)">s</text><text font-size="27" x="304.1" y="746.8">(</text><text font-size="27" font-style="italic" x="313.6" y="748">h</text><text font-size="19" x="328.6" y="737.6">−</text><text font-size="19" x="-2.1" transform="translate(339.9 735.4) scale(0.72 1)">1</text><text font-size="27.5" x="0" y="0" transform="translate(351.4 748) scale(1.05 1)">Mpc</text><text font-size="27" x="406.2" y="746.8">)</text></g><g style="font-family:'Liberation Sans',sans-serif" fill="#1a1a1a"><text font-size="27" transform="translate(740.9 748) skewX(-9)">s</text><text font-size="27" x="761" y="746.8">(</text><text font-size="27" font-style="italic" x="770.5" y="748">h</text><text font-size="19" x="785.5" y="737.6">−</text><text font-size="19" x="-2.1" transform="translate(796.8 735.4) scale(0.72 1)">1</text><text font-size="27.5" x="0" y="0" transform="translate(808.3 748) scale(1.05 1)">Mpc</text><text font-size="27" x="863.1" y="746.8">)</text></g><g style="font-family:'Liberation Sans',sans-serif" fill="#1a1a1a" transform="translate(48 273.3) rotate(-90)"><text font-size="27" x="-0.8" y="0">s</text><text font-size="19.5" x="11.6" y="-13.2">2</text><text font-size="27" y="-1" transform="translate(22.0 0) scale(1.33 1)">ξ</text><text font-size="19.5" x="37" y="8.8">g</text><text font-size="19.5" x="53.6" y="8.8">+</text><text font-size="19.5" x="64.5" y="8.8">,</text><text font-size="19.5" x="69.8" y="8.8">0</text><text font-size="27" x="87.7" y="0">(</text><text font-size="27" font-style="italic" x="97.6" y="0">h</text><text font-size="19.5" x="112.7" y="-12.5">−2</text><text font-size="27.5" x="138.9" y="0">Mpc</text><text font-size="19.5" x="193.9" y="-12.5">2</text><text font-size="27" x="203.9" y="0">)</text></g><g style="font-family:'Liberation Sans',sans-serif" fill="#1a1a1a" transform="translate(36 590.7) rotate(-90)"><text font-size="27" x="-0.8" y="0">s</text><text font-size="19.5" x="11.6" y="-13.2">2</text><text font-size="27" y="-1" transform="translate(22.0 0) scale(1.33 1)">ξ</text><text font-size="19.5" x="38.6" y="8.8">0</text><text font-size="27" x="56.6" y="0">(</text><text font-size="27" font-style="italic" x="66.5" y="0">h</text><text font-size="19.5" x="81.6" y="-12.5">−2</text><text font-size="27.5" x="107.8" y="0">Mpc</text><text font-size="19.5" x="162.8" y="-12.5">2</text><text font-size="27" x="172.8" y="0">)</text></g>
</svg>
</body></html>
